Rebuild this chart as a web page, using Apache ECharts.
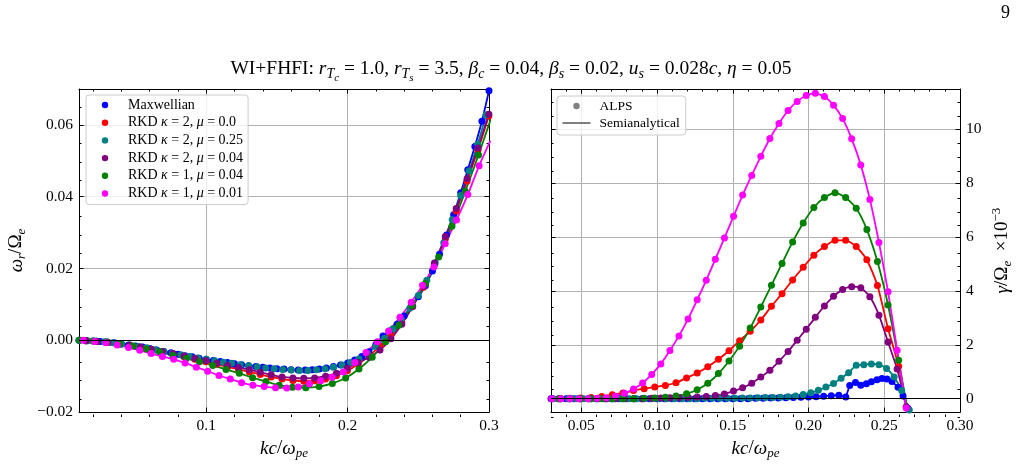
<!DOCTYPE html>
<html>
<head>
<meta charset="utf-8">
<script src="https://cdn.jsdelivr.net/npm/echarts@6/dist/echarts.min.js"></script>
<style>
  html, body { margin: 0; padding: 0; background: #fff; }
  #chart { width: 1022px; height: 465px; }
</style>
</head>
<body>
<div id="chart"></div>
<script>
// ---------- data: left panel, omega_r / Omega_e ----------
const seriesNames = ['Maxwellian', 'RKD κ = 2, μ = 0.0', 'RKD κ = 2, μ = 0.25', 'RKD κ = 2, μ = 0.04', 'RKD κ = 1, μ = 0.04', 'RKD κ = 1, μ = 0.01']
const seriesColors = ['#0000ff', '#ff0000', '#008080', '#800080', '#008000', '#ff00ff']

const kBlueL = [0.010, 0.015, 0.020, 0.025, 0.030, 0.035, 0.040, 0.045, 0.050, 0.055, 0.060, 0.065, 0.070, 0.075, 0.080, 0.085, 0.090, 0.095, 0.100, 0.105, 0.110, 0.115, 0.120, 0.125, 0.130, 0.135, 0.140, 0.145, 0.150, 0.155, 0.160, 0.165, 0.170, 0.175, 0.180, 0.185, 0.190, 0.195, 0.200, 0.205, 0.210, 0.215, 0.220, 0.225, 0.230, 0.235, 0.240, 0.245, 0.250, 0.255, 0.260, 0.265, 0.270, 0.275, 0.280, 0.285, 0.290, 0.295, 0.300]
const wBlueL = [0.0000, -0.0001, -0.0002, -0.0003, -0.0005, -0.0007, -0.0010, -0.0013, -0.0016, -0.0019, -0.0023, -0.0027, -0.0031, -0.0035, -0.0039, -0.0043, -0.0046, -0.0050, -0.0053, -0.0056, -0.0059, -0.0062, -0.0065, -0.0068, -0.0071, -0.0073, -0.0075, -0.0077, -0.0079, -0.0080, -0.0082, -0.0083, -0.0083, -0.0082, -0.0080, -0.0077, -0.0073, -0.0069, -0.0063, -0.0055, -0.0045, -0.0032, -0.0012, 0.0012, 0.0026, 0.0045, 0.0068, 0.0094, 0.0121, 0.0152, 0.0193, 0.0240, 0.0293, 0.0350, 0.0411, 0.0475, 0.0540, 0.0610, 0.0695]

const kTealL = [0.010, 0.016, 0.022, 0.028, 0.034, 0.040, 0.046, 0.052, 0.058, 0.064, 0.070, 0.076, 0.082, 0.088, 0.094, 0.100, 0.106, 0.112, 0.118, 0.124, 0.130, 0.136, 0.142, 0.148, 0.154, 0.160, 0.166, 0.172, 0.178, 0.184, 0.190, 0.196, 0.202, 0.208, 0.214, 0.220, 0.226, 0.232, 0.238, 0.244, 0.250, 0.256, 0.262, 0.268, 0.274, 0.280, 0.286, 0.292, 0.298]
const wTealL = [0.0000, -0.0001, -0.0002, -0.0004, -0.0007, -0.0010, -0.0013, -0.0017, -0.0021, -0.0026, -0.0031, -0.0036, -0.0040, -0.0045, -0.0049, -0.0053, -0.0057, -0.0061, -0.0064, -0.0068, -0.0071, -0.0074, -0.0077, -0.0079, -0.0081, -0.0083, -0.0084, -0.0084, -0.0082, -0.0079, -0.0075, -0.0069, -0.0062, -0.0052, -0.0037, -0.0017, 0.0005, 0.0032, 0.0058, 0.0089, 0.0125, 0.0167, 0.0215, 0.0272, 0.0336, 0.0403, 0.0472, 0.0546, 0.0628]

const kRkdL = [0.0150, 0.0227, 0.0304, 0.0381, 0.0458, 0.0535, 0.0612, 0.0689, 0.0766, 0.0843, 0.0920, 0.0997, 0.1074, 0.1151, 0.1228, 0.1305, 0.1382, 0.1459, 0.1536, 0.1613, 0.1690, 0.1767, 0.1844, 0.1921, 0.1998, 0.2075, 0.2152, 0.2229, 0.2306, 0.2383, 0.2460, 0.2537, 0.2614, 0.2691, 0.2768, 0.2845, 0.2922, 0.2999]
const wRedL = [-0.0001, -0.0003, -0.0006, -0.0010, -0.0015, -0.0020, -0.0026, -0.0032, -0.0039, -0.0046, -0.0053, -0.0060, -0.0067, -0.0074, -0.0081, -0.0088, -0.0095, -0.0102, -0.0108, -0.0112, -0.0114, -0.0113, -0.0108, -0.0099, -0.0085, -0.0066, -0.0043, -0.0016, 0.0013, 0.0050, 0.0095, 0.0148, 0.0210, 0.0282, 0.0360, 0.0444, 0.0530, 0.0625]
const wPurpleL = [-0.0001, -0.0003, -0.0006, -0.0010, -0.0014, -0.0019, -0.0025, -0.0031, -0.0037, -0.0044, -0.0051, -0.0057, -0.0064, -0.0070, -0.0076, -0.0082, -0.0089, -0.0096, -0.0102, -0.0105, -0.0106, -0.0105, -0.0100, -0.0092, -0.0078, -0.0062, -0.0047, -0.0027, 0.0004, 0.0045, 0.0094, 0.0150, 0.0215, 0.0289, 0.0367, 0.0450, 0.0536, 0.0630]

const kGreenL = [0.0106, 0.0200, 0.0294, 0.0388, 0.0482, 0.0576, 0.0670, 0.0764, 0.0858, 0.0952, 0.1046, 0.1140, 0.1234, 0.1328, 0.1422, 0.1516, 0.1610, 0.1704, 0.1798, 0.1892, 0.1986, 0.2080, 0.2174, 0.2268, 0.2362, 0.2456, 0.2550, 0.2644, 0.2738, 0.2832, 0.2926, 0.3020]
const wGreenL = [0.0000, -0.0002, -0.0005, -0.0010, -0.0016, -0.0024, -0.0032, -0.0042, -0.0051, -0.0060, -0.0070, -0.0081, -0.0092, -0.0104, -0.0115, -0.0125, -0.0131, -0.0132, -0.0129, -0.0120, -0.0105, -0.0080, -0.0047, -0.0004, 0.0042, 0.0097, 0.0158, 0.0232, 0.0318, 0.0415, 0.0516, 0.0625]

const kMagL = [0.013, 0.021, 0.029, 0.037, 0.045, 0.053, 0.061, 0.069, 0.077, 0.085, 0.093, 0.101, 0.109, 0.117, 0.125, 0.133, 0.141, 0.149, 0.157, 0.165, 0.173, 0.181, 0.189, 0.197, 0.205, 0.213, 0.221, 0.229, 0.237, 0.245, 0.253, 0.261, 0.269, 0.277, 0.285, 0.293, 0.301]
const wMagL = [0.0000, -0.0003, -0.0007, -0.0013, -0.0020, -0.0028, -0.0037, -0.0045, -0.0053, -0.0063, -0.0075, -0.0086, -0.0098, -0.0108, -0.0118, -0.0125, -0.0129, -0.0132, -0.0133, -0.0130, -0.0122, -0.0113, -0.0103, -0.0088, -0.0062, -0.0034, -0.0004, 0.0026, 0.0064, 0.0106, 0.0153, 0.0204, 0.0269, 0.0335, 0.0406, 0.0486, 0.0556]

// ---------- data: right panel, gamma / Omega_e x 1e-3 ----------
const kBlueR = [0.030, 0.035, 0.040, 0.045, 0.050, 0.055, 0.060, 0.065, 0.070, 0.075, 0.080, 0.085, 0.090, 0.095, 0.100, 0.105, 0.110, 0.115, 0.120, 0.125, 0.130, 0.135, 0.140, 0.145, 0.150, 0.155, 0.160, 0.165, 0.170, 0.175, 0.180, 0.185, 0.190, 0.195, 0.200, 0.205, 0.210, 0.215, 0.220, 0.2246, 0.2272, 0.2310, 0.2345, 0.2382, 0.2415, 0.2452, 0.2485, 0.2518, 0.2551, 0.2591, 0.2624, 0.2657, 0.2690]
const gBlueR = [0, 0, 0, 0, 0, 0, 0, 0, 0, 0, 0, 0, 0, 0, 0, 0, 0, 0, 0, 0, 0, 0, 0, 0, 0, 0, 0, 0.01, 0.01, 0.02, 0.02, 0.03, 0.04, 0.05, 0.06, 0.07, 0.09, 0.11, 0.13, 0.06, 0.49, 0.60, 0.50, 0.55, 0.63, 0.70, 0.75, 0.73, 0.64, 0.42, 0.10, -0.37, -1.2]

const kTealR = [0.0315, 0.0365, 0.0415, 0.0465, 0.0515, 0.0565, 0.0615, 0.0665, 0.0715, 0.0765, 0.0815, 0.0865, 0.0915, 0.0965, 0.1015, 0.1065, 0.1115, 0.1165, 0.1215, 0.1265, 0.1315, 0.1365, 0.1415, 0.1465, 0.1515, 0.1565, 0.1615, 0.1665, 0.1715, 0.1765, 0.1815, 0.1865, 0.1915, 0.1965, 0.2015, 0.2065, 0.2115, 0.2165, 0.2215, 0.2265, 0.2315, 0.2365, 0.2415, 0.2465, 0.2515, 0.2565, 0.2615, 0.2665]
const gTealR = [0, 0, 0, 0, 0, 0, 0, 0, 0, 0, 0, 0, 0, 0, 0, 0, 0, 0, 0, 0, 0.01, 0.01, 0.01, 0.01, 0.01, 0.02, 0.02, 0.03, 0.04, 0.04, 0.05, 0.07, 0.10, 0.15, 0.22, 0.31, 0.43, 0.56, 0.76, 0.96, 1.24, 1.26, 1.29, 1.26, 1.12, 0.80, 0.30, -0.42]

const kR6 = [0.0305, 0.0365, 0.0425, 0.0485, 0.0545, 0.0605, 0.0665, 0.0725, 0.0785, 0.0845, 0.0905, 0.0965, 0.1025, 0.1085, 0.1145, 0.1205, 0.1265, 0.1325, 0.1385, 0.1445, 0.1505, 0.1565, 0.1625, 0.1685, 0.1745, 0.1805, 0.1865, 0.1925, 0.1985, 0.2045, 0.2105, 0.2165, 0.2225, 0.2285, 0.2345, 0.2405, 0.2465, 0.2525, 0.2585, 0.2645, 0.2705]
const gMagR = [0, 0, 0, 0, 0, 0.01, 0.03, 0.09, 0.20, 0.36, 0.58, 0.90, 1.29, 1.79, 2.33, 2.96, 3.67, 4.40, 5.18, 5.97, 6.77, 7.56, 8.29, 9.00, 9.66, 10.22, 10.70, 11.04, 11.26, 11.34, 11.22, 10.90, 10.40, 9.65, 8.68, 7.40, 5.80, 3.97, 1.80, -0.35, -2.6]
const gPurpleR = [0, 0, 0, 0, 0, 0, 0, 0, 0, 0, 0, 0.01, 0.02, 0.03, 0.04, 0.05, 0.06, 0.08, 0.12, 0.17, 0.28, 0.40, 0.57, 0.80, 1.05, 1.39, 1.75, 2.17, 2.58, 3.02, 3.44, 3.80, 4.05, 4.16, 4.12, 3.78, 3.10, 2.10, 1.10, -0.30, -2.2]

const kR7 = [0.0355, 0.0425, 0.0495, 0.0565, 0.0635, 0.0705, 0.0775, 0.0845, 0.0915, 0.0985, 0.1055, 0.1125, 0.1195, 0.1265, 0.1335, 0.1405, 0.1475, 0.1545, 0.1615, 0.1685, 0.1755, 0.1825, 0.1895, 0.1965, 0.2035, 0.2105, 0.2175, 0.2245, 0.2315, 0.2385, 0.2455, 0.2525, 0.2595, 0.2665]
const gRedR = [0.0, 0.01, 0.02, 0.04, 0.08, 0.14, 0.21, 0.30, 0.37, 0.43, 0.49, 0.59, 0.77, 0.95, 1.18, 1.46, 1.78, 2.15, 2.50, 2.92, 3.43, 3.90, 4.41, 4.88, 5.33, 5.65, 5.88, 5.88, 5.65, 5.16, 4.20, 2.60, 1.20, -0.8]
const gGreenR = [0, 0, 0, 0, 0, 0, 0, 0, 0.01, 0.02, 0.05, 0.10, 0.18, 0.33, 0.57, 0.93, 1.40, 1.95, 2.62, 3.40, 4.21, 5.02, 5.82, 6.52, 7.10, 7.47, 7.65, 7.47, 7.07, 6.28, 5.09, 3.48, 1.43, -0.8]

// ---------- ticks ----------
const xMajorL = [0.1, 0.2, 0.3]
const xMinorL = [0.02, 0.04, 0.06, 0.08, 0.12, 0.14, 0.16, 0.18, 0.22, 0.24, 0.26, 0.28]
const yMajorL = [-0.02, 0, 0.02, 0.04, 0.06]
const yMinorL = [-0.015, -0.01, -0.005, 0.005, 0.01, 0.015, 0.025, 0.03, 0.035, 0.045, 0.05, 0.055, 0.065, 0.07]
const xMajorR = [0.05, 0.10, 0.15, 0.20, 0.25, 0.30]
const xMinorR = [0.04, 0.06, 0.07, 0.08, 0.09, 0.11, 0.12, 0.13, 0.14, 0.16, 0.17, 0.18, 0.19, 0.21, 0.22, 0.23, 0.24, 0.26, 0.27, 0.28, 0.29]
const yMajorR = [0, 2, 4, 6, 8, 10]
const yMinorR = [-0.5, 0.5, 1, 1.5, 2.5, 3, 3.5, 4.5, 5, 5.5, 6.5, 7, 7.5, 8.5, 9, 9.5, 10.5, 11, 11.5]

const SERIF = '"Liberation Serif", "DejaVu Serif", serif'

const richSet = (size) => {
  const base = { fontFamily: SERIF, fontSize: size, fontWeight: 'normal', color: '#000' }
  return {
    r: { ...base },
    i: { ...base, fontStyle: 'italic' },
    s: { ...base, fontStyle: 'italic', fontSize: Math.round(size * 0.7), padding: [Math.round(size * 0.55), 0, 0, 0] },
    ss: { ...base, fontStyle: 'italic', fontSize: Math.round(size * 0.55), padding: [Math.round(size * 0.95), 0, 0, 0] },
    sup: { ...base, fontSize: Math.round(size * 0.7), padding: [0, 0, Math.round(size * 0.65), 0] },
    g: { ...base, width: 4 },
  }
}

const pairs = (k, v) => k.map((x, i) => [x, v[i]])

const axis = (gridIndex, position, min, max, ticks, len, extra) => Object.assign({
  type: 'value', gridIndex, position, min, max,
  axisLine: { show: true, onZero: false, lineStyle: { color: '#000', width: 1 } },
  axisTick: { show: true, inside: true, length: len, customValues: ticks, lineStyle: { color: '#000', width: 1 } },
  axisLabel: { show: false },
  splitLine: { show: false },
  minorTick: { show: false },
}, extra || {})

const labels = (ticks, fmt) => ({
  show: true, customValues: ticks, formatter: fmt, margin: 6,
  fontFamily: SERIF, fontSize: 15.5, color: '#000',
})
const grid = { show: true, lineStyle: { color: '#b0b0b0', width: 1 } }
const noLine = { show: false, onZero: false }

const GL = { left: 79, top: 89, width: 410, height: 328 }
const GR = { left: 551, top: 89, width: 409, height: 328 }

const chart = echarts.init(document.getElementById('chart'))

const lineSeries = (name, color, k, v, xi, yi, extra) => Object.assign({
  name, type: 'line', xAxisIndex: xi, yAxisIndex: yi,
  data: pairs(k, v),
  symbol: 'circle', symbolSize: 7, smooth: 0.2,
  lineStyle: { color, width: 1.8 }, itemStyle: { color },
  emphasis: { disabled: true }, animation: false,
}, extra || {})

const zeroLine = {
  silent: true, symbol: ['none', 'none'], label: { show: false },
  lineStyle: { color: '#000', width: 1, type: 'solid' }, data: [{ yAxis: 0 }], animation: false,
}

const legendFmt = (name) => name.split(/(κ|μ)/).filter((s) => s).map((s) => (s === 'κ' || s === 'μ') ? `{i|${s}}` : `{r|${s}}`).join('')

const boxStyle = {
  backgroundColor: 'rgba(255,255,255,0.8)', borderColor: '#cccccc', borderWidth: 1, borderRadius: 3,
  selectedMode: false, orient: 'vertical',
}

chart.setOption({
  backgroundColor: '#fff',
  animation: false,
  title: {
    text: '{r|WI+FHFI: }{i|r}{s|T}{ss|c}{r| = 1.0, }{i|r}{s|T}{ss|s}{r| = 3.5, }{i|β}{s|c}{r| = 0.04, }{i|β}{s|s}{r| = 0.02, }{i|u}{s|s}{r| = 0.028}{i|c}{r|, }{i|η}{r| = 0.05}',
    left: 'center', top: 49,
    textStyle: { fontWeight: 'normal', rich: richSet(19.5) },
  },
  graphic: [{ type: 'text', right: 12, top: 4, style: { text: '9', font: '18px ' + SERIF, fill: '#000' } }],
  legend: [
    {
      ...boxStyle,
      data: seriesNames,
      left: 86, top: 95,
      itemWidth: 36, itemHeight: 8, itemGap: 3.7,
      padding: [3, 5, 4, 0],
      lineStyle: { opacity: 0 },
      formatter: legendFmt,
      textStyle: { lineHeight: 14, rich: richSet(14) },
    },
    {
      ...boxStyle,
      data: ['ALPS', 'Semianalytical'],
      left: 557, top: 96,
      itemWidth: 28, itemHeight: 8, itemGap: 3,
      padding: [3, 6, 5, 4.5],
      formatter: (n) => '{g| }{r|' + n + '}',
      textStyle: { lineHeight: 14, rich: richSet(13.5) },
    },
  ],
  grid: [GL, GL, GR, GR],
  xAxis: [
    axis(0, 'bottom', 0.01, 0.3, xMajorL, 4.5, {
      axisLabel: labels(xMajorL, (v) => v.toFixed(1)), splitLine: grid,
      name: '{i|kc}{r|/}{i|ω}{s|pe}', nameLocation: 'middle', nameGap: 18,
      nameTextStyle: { rich: richSet(19) },
    }),
    axis(0, 'top', 0.01, 0.3, xMajorL, 4.5),
    axis(1, 'bottom', 0.01, 0.3, xMinorL, 2.5, { axisLine: noLine }),
    axis(1, 'top', 0.01, 0.3, xMinorL, 2.5, { axisLine: noLine }),
    axis(2, 'bottom', 0.03, 0.30, xMajorR, 4.5, {
      axisLabel: labels(xMajorR, (v) => v.toFixed(2)), splitLine: grid,
      name: '{i|kc}{r|/}{i|ω}{s|pe}', nameLocation: 'middle', nameGap: 18,
      nameTextStyle: { rich: richSet(19) },
    }),
    axis(2, 'top', 0.03, 0.30, xMajorR, 4.5),
    axis(3, 'bottom', 0.03, 0.30, xMinorR, 2.5, { axisLine: noLine }),
    axis(3, 'top', 0.03, 0.30, xMinorR, 2.5, { axisLine: noLine }),
  ],
  yAxis: [
    axis(0, 'left', -0.02, 0.07, yMajorL, 4.5, {
      axisLabel: labels(yMajorL, (v) => (v < 0 ? '−' : '') + Math.abs(v).toFixed(2)), splitLine: grid,
      name: '{i|ω}{s|r}{r|/Ω}{s|e}', nameLocation: 'middle', nameGap: 51, nameRotate: 90,
      nameTextStyle: { rich: richSet(19) },
    }),
    axis(0, 'right', -0.02, 0.07, yMajorL, 4.5),
    axis(1, 'left', -0.02, 0.07, yMinorL, 2.5, { axisLine: noLine }),
    axis(1, 'right', -0.02, 0.07, yMinorL, 2.5, { axisLine: noLine }),
    axis(2, 'right', -0.5, 11.5, yMajorR, 4.5, {
      axisLabel: labels(yMajorR, (v) => String(v)), splitLine: grid,
      name: '{i|γ}{r|/Ω}{s|e}{r|  ×10}{sup|−3}', nameLocation: 'middle', nameGap: 30, nameRotate: 90,
      nameTextStyle: { rich: richSet(19) },
    }),
    axis(2, 'left', -0.5, 11.5, yMajorR, 4.5),
    axis(3, 'right', -0.5, 11.5, yMinorR, 2.5, { axisLine: noLine }),
    axis(3, 'left', -0.5, 11.5, yMinorR, 2.5, { axisLine: noLine }),
  ],
  series: [
    // left panel
    lineSeries(seriesNames[0], seriesColors[0], kBlueL, wBlueL, 0, 0, { markLine: zeroLine }),
    lineSeries(seriesNames[1], seriesColors[1], kRkdL, wRedL, 0, 0),
    lineSeries(seriesNames[2], seriesColors[2], kTealL, wTealL, 0, 0),
    lineSeries(seriesNames[3], seriesColors[3], kRkdL, wPurpleL, 0, 0),
    lineSeries(seriesNames[4], seriesColors[4], kGreenL, wGreenL, 0, 0),
    lineSeries(seriesNames[5], seriesColors[5], kMagL, wMagL, 0, 0),
    // right panel
    lineSeries(seriesNames[0], seriesColors[0], kBlueR, gBlueR, 4, 4, { smooth: false, markLine: zeroLine }),
    lineSeries(seriesNames[1], seriesColors[1], kR7, gRedR, 4, 4),
    lineSeries(seriesNames[2], seriesColors[2], kTealR, gTealR, 4, 4),
    lineSeries(seriesNames[3], seriesColors[3], kR6, gPurpleR, 4, 4),
    lineSeries(seriesNames[4], seriesColors[4], kR7, gGreenR, 4, 4),
    lineSeries(seriesNames[5], seriesColors[5], kR6, gMagR, 4, 4),
    // legend-only entries
    { name: 'ALPS', type: 'line', xAxisIndex: 4, yAxisIndex: 4, data: [], symbol: 'circle',
      lineStyle: { color: 'rgba(0,0,0,0)', width: 0 }, itemStyle: { color: '#808080' } },
    { name: 'Semianalytical', type: 'line', xAxisIndex: 4, yAxisIndex: 4, data: [], symbol: 'circle',
      lineStyle: { color: '#808080', width: 1.8 }, itemStyle: { color: 'rgba(0,0,0,0)', borderWidth: 0 } },
  ],
})

window.addEventListener('resize', () => chart.resize())
</script>
</body>
</html>
